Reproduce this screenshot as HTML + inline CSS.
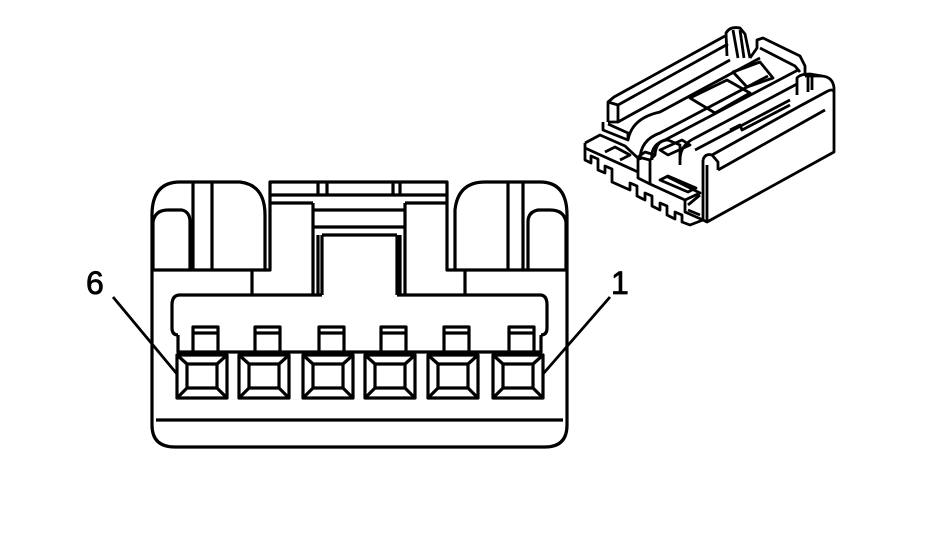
<!DOCTYPE html>
<html><head><meta charset="utf-8"><style>
html,body{margin:0;padding:0;background:#fff;width:928px;height:552px;overflow:hidden}
svg{display:block}
text{font-family:"Liberation Sans",sans-serif;font-size:32px;fill:#000}
</style></head><body>
<svg width="928" height="552" viewBox="0 0 928 552" fill="none" stroke="#000" stroke-width="3.2" stroke-linejoin="round">
<!-- main front view -->
<path d="M152,300 L152,215 Q152,182 180,182 L240,182 Q265,185 265,215 L265,270 L270,270 L270,182 L447,182 L447,270 L455,270 L455,210 Q458,182 485,182 L540,182 Q567,182 567,215 L567,425 Q567,447 545,447 L175,447 Q152,447 152,425 Z"/>
<path d="M152,270 L265,270 M455,270 L567,270"/>
<path d="M156,420 L563,420"/>
<path d="M193,182 L193,270 M212,182 L212,270 M508,182 L508,270 M523,182 L523,270"/>
<path d="M153,270 L153,222 Q155,210 168,210 L182,210 Q190,212 190,222 L190,270"/>
<path d="M566,270 L566,222 Q564,210 550,210 L538,210 Q528,212 528,222 L528,270"/>
<path d="M270,195 L447,195 M270,203 L313,203 M405,203 L447,203"/>
<path d="M318,182 L318,195 M327,182 L327,195 M393,182 L393,195 M400,182 L400,195"/>
<path d="M313,203 L313,295 M405,203 L405,295 M313,210 L405,210 M313,227 L405,227"/>
<path d="M318,235 L318,295 M322,235 L322,295 M397,235 L397,295 M400,235 L400,295 M322,235 L397,235"/>
<path d="M252,270 L252,295 M465,270 L465,295"/>
<path d="M322,295 L180,295 Q172,295 172,305 L172,328 Q172,335 178,335 M397,295 L540,295 Q547,295 547,305 L547,328 Q547,335 541,335"/>
<path d="M178,335 L178,352 L541,352 L541,335"/>
<g id="t">
<rect x="177" y="355" width="50" height="43"/>
<rect x="187" y="364" width="30" height="24"/>
<path d="M177,355 L187,364 M227,355 L217,364 M177,398 L187,388 M227,398 L217,388"/>
<path d="M193,352 L193,327 L218,327 L218,352 M193,333 L218,333"/>
</g>
<use href="#t" x="62"/><use href="#t" x="126"/><use href="#t" x="188"/><use href="#t" x="251"/><use href="#t" x="316"/>
<path d="M113,297 L177,374 M610,297 L543,374" stroke-width="2.8"/>
<text x="86" y="294" stroke="#000" stroke-width="0.8">6</text>
<text x="611" y="294" stroke="#000" stroke-width="0.8">1</text>
<!-- iso connector -->
<g stroke-width="2.8">
<path d="M703,160 L703,220 L707,222 L834,152 L834,88 Q833,77 822,76 L805,76"/>
<path d="M707,222 L707,165"/>
<path d="M703,160 Q705,153 712,155 L718,162 L718,170"/>
<path d="M712,155 L800,106 L826,92 Q833,88 834,92"/>
<path d="M718,170 L825,110"/>
<path d="M797,95 L797,78 Q800,74 810,74 L822,76"/>
<path d="M808,77 L808,92 M812,77 L812,90"/>
<path d="M608,122 L608,102 L614,97 L725,36"/>
<path d="M608,102 L618,105 L618,122 L608,122"/>
<path d="M618,105 L728,44"/>
<path d="M618,122 L730,60"/>
<path d="M727,56 L726,33 Q730,26 740,28 L745,34 L750,58"/>
<path d="M733,30 L738,58 M740,30 L744,58"/>
<path d="M750,58 L757,48 L757,40 L763,38 L800,56 L805,66 L805,76"/>
<path d="M760,48 L795,66 L800,72"/>
<path d="M603,122 L603,130 L628,140 L628,133 L608,124"/>
<path d="M628,140 Q632,118 660,112 L760,58"/>
<path d="M640,160 Q640,140 660,133 L768,76"/>
<path d="M652,160 Q650,145 665,140 L798,70"/>
<path d="M690,98 L727,80 L750,93 L715,113 Z"/>
<path d="M733,72 L760,62 L773,78 L747,87 Z"/>
<path d="M680,160 Q680,145 695,138 L797,84"/>
<path d="M695,150 L790,100"/>
<path d="M730,130 L740,125 L742,130 L790,105"/>
<path d="M585,143 L600,135 L625,146 L640,160"/>
<path d="M585,143 L585,160 L591,163 L591,156 L598,159 L598,170 L605,173 L605,166 L612,169 L612,182 L630,190 L630,183 L637,186 L637,196 L645,200 L645,193 L652,196 L652,206 L660,210 L660,203 L667,206 L667,215 L675,219 L675,212 L682,215 L682,222 L690,225 L703,220"/>
<path d="M585,148 L638,172"/>
<path d="M605,152 L615,147 L630,155 L620,160"/>
<path d="M638,157 L638,178 L650,184 L650,160 L638,157"/>
<path d="M638,157 L645,152 L655,155 L650,160"/>
<path d="M655,155 Q656,140 668,140 L680,145 L680,165"/>
<path d="M660,150 L682,140 L690,145 L668,155 Z"/>
<path d="M650,184 L685,200 L700,193 L666,176"/>
<path d="M660,180 L688,192 L696,188 L668,176 Z"/>
<path d="M685,200 L685,212 L703,220 M688,205 L700,195 M688,210 L700,215"/>
</g>
</svg>
</body></html>
